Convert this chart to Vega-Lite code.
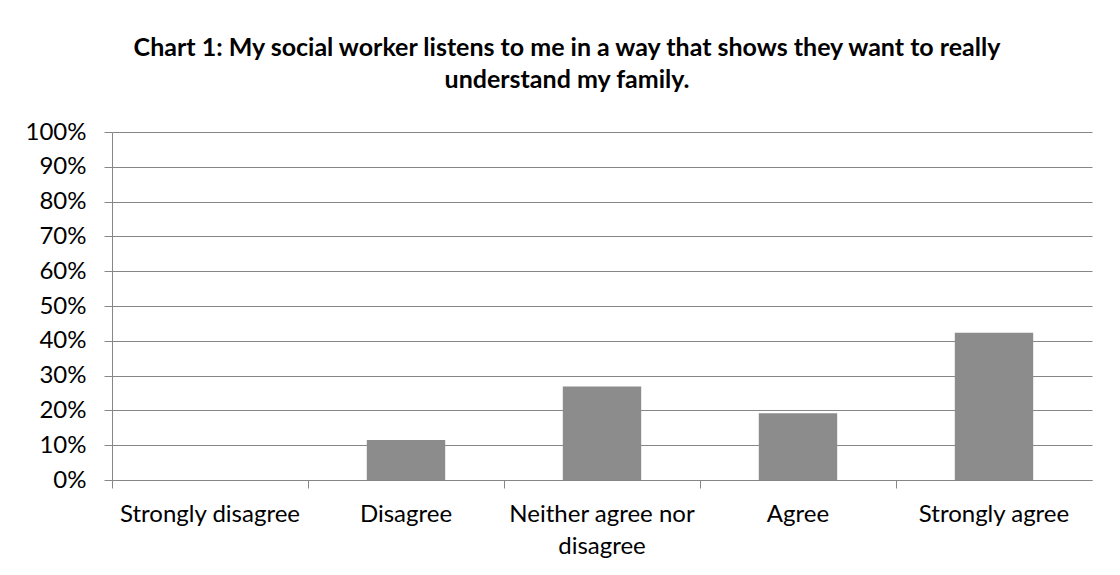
{
  "$schema": "https://vega.github.io/schema/vega-lite/v6.json",
  "width": 980,
  "height": 348,
  "autosize": {"type": "none"},
  "padding": {"left": 112, "top": 132, "right": 28, "bottom": 95},
  "background": "white",
  "title": {
    "text": ["Chart 1: My social worker listens to me in a way that shows they want to really", "understand my family."],
    "anchor": "middle",
    "frame": "group",
    "dx": -35,
    "offset": 27,
    "font": "Lato",
    "fontSize": 25,
    "fontWeight": "bold",
    "lineHeight": 32,
    "color": "#000000"
  },
  "data": {
    "values": [
      {"response": "Strongly disagree", "pct": 0},
      {"response": "Disagree", "pct": 0.115},
      {"response": "Neither agree nor disagree", "pct": 0.269},
      {"response": "Agree", "pct": 0.192},
      {"response": "Strongly agree", "pct": 0.423}
    ]
  },
  "mark": {"type": "bar", "color": "#8c8c8c", "width": {"band": 0.4}},
  "encoding": {
    "x": {
      "field": "response",
      "type": "nominal",
      "sort": null,
      "scale": {"paddingInner": 0, "paddingOuter": 0},
      "axis": {
        "title": null,
        "labelAngle": 0,
        "bandPosition": 0,
        "grid": false,
        "domainColor": "#868686",
        "tickColor": "#868686",
        "tickSize": 8,
        "labelPadding": 14,
        "labelLimit": 0,
        "labelFont": "Lato",
        "labelFontSize": 24,
        "labelColor": "#000000",
        "labelLineHeight": 32,
        "labelExpr": "datum.label == 'Neither agree nor disagree' ? ['Neither agree nor', 'disagree'] : datum.label"
      }
    },
    "y": {
      "field": "pct",
      "type": "quantitative",
      "scale": {"domain": [0, 1], "nice": false},
      "axis": {
        "title": null,
        "values": [0, 0.1, 0.2, 0.3, 0.4, 0.5, 0.6, 0.7, 0.8, 0.9, 1],
        "format": ".0%",
        "grid": true,
        "gridColor": "#868686",
        "gridWidth": 1,
        "domainColor": "#868686",
        "tickColor": "#868686",
        "tickSize": 8,
        "labelPadding": 18,
        "labelFont": "Lato",
        "labelFontSize": 24,
        "labelColor": "#000000"
      }
    }
  },
  "config": {
    "view": {"stroke": null}
  }
}
